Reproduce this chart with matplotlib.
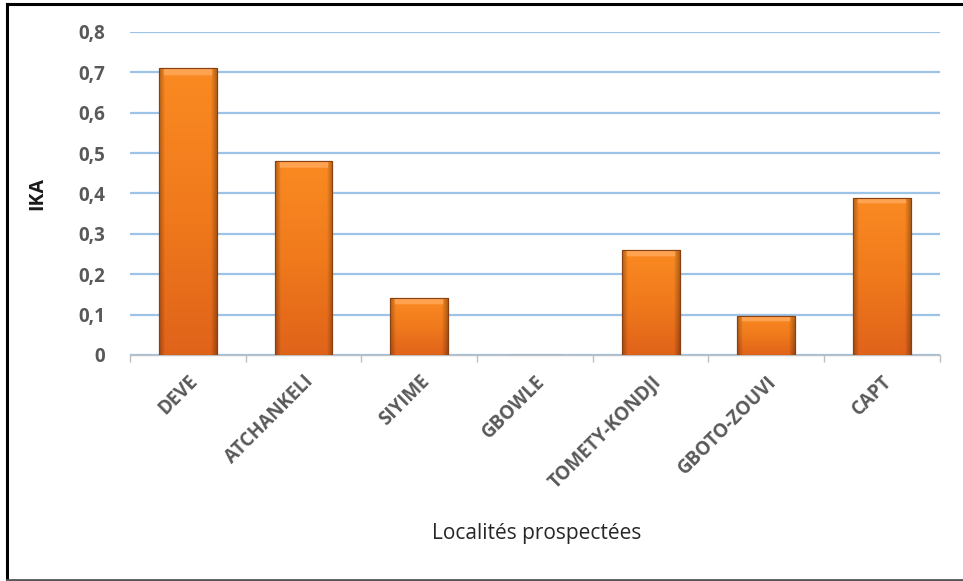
import matplotlib
matplotlib.use("Agg")
import matplotlib.pyplot as plt
import numpy as np
from matplotlib.patches import Rectangle
from matplotlib.lines import Line2D
from matplotlib.colors import LinearSegmentedColormap

categories = ["DEVE", "ATCHANKELI", "SIYIME", "GBOWLE", "TOMETY-KONDJI", "GBOTO-ZOUVI", "CAPT"]
values = [0.71, 0.48, 0.14, 0.0, 0.26, 0.097, 0.39]
yticks = [0, 0.1, 0.2, 0.3, 0.4, 0.5, 0.6, 0.7, 0.8]
ytick_labels = ["0", "0,1", "0,2", "0,3", "0,4", "0,5", "0,6", "0,7", "0,8"]

plt.rcParams['font.family'] = ['Open Sans', 'DejaVu Sans']

fig = plt.figure(figsize=(9.63, 5.81), dpi=100)
ax = fig.add_axes([0.135, 0.389, 0.841, 0.556])

x = np.arange(len(categories))
bars = ax.bar(x, values, width=0.5, color="#F5821F", edgecolor="#8A4010", linewidth=0.8, zorder=3)

# gradient fill inside each bar
cmap = LinearSegmentedColormap.from_list("og", ["#E0631A", "#F07A1C", "#FA8A22"])
nx = 60
hx = np.linspace(-1, 1, nx)
side = 1 - 0.28 * np.clip((np.abs(hx) - 0.8) / 0.2, 0, 1)
for b in bars:
    h = b.get_height()
    if h <= 0:
        continue
    x0 = b.get_x(); w = b.get_width()
    ny = 200
    vy = np.linspace(0, 1, ny)[:, None]
    img = np.tile(vy, (1, nx))
    rgba = cmap(img)
    rgba[..., :3] *= side[None, :, None]
    band_px = 6.0
    h_px = h / 0.8 * 323.0
    frac = max(0.0, 1 - band_px / h_px)
    top = (vy[:, 0] > frac)
    inner = (np.abs(hx) < 0.85)
    hl = np.outer(top, inner)
    rgba[hl, 0] = 1.0
    rgba[hl, 1] = 0.64
    rgba[hl, 2] = 0.32
    im = ax.imshow(rgba, extent=[x0, x0 + w, 0, h], origin="lower", aspect="auto", zorder=3.5,
                   interpolation="bilinear")
    im.set_clip_path(b)
    ax.add_patch(Rectangle((x0, 0), w, h, fill=False, edgecolor="#8A4010", linewidth=0.8, zorder=4))

ax.set_xlim(-0.5, len(categories) - 0.5)
ax.set_ylim(0, 0.8)
ax.set_yticks(yticks)
ax.set_yticklabels(ytick_labels, fontsize=13.5, fontweight="bold", color="#595959")
ax.yaxis.grid(True, color="#9DC3E6", linewidth=1.6, zorder=0)
ax.set_axisbelow(True)

ax.set_xticks(np.arange(-0.5, len(categories), 1.0))
ax.set_xticklabels([])
ax.tick_params(axis="x", which="major", length=5, color="#BFBFBF", width=1)
ax.set_xticks(x, minor=True)
ax.set_xticklabels(categories, minor=True, rotation=45, ha="right", rotation_mode="anchor",
                   fontsize=13.5, fontweight="bold", color="#595959")
ax.tick_params(axis="x", which="minor", length=0, pad=12)
ax.tick_params(axis="y", length=0, pad=18)

for s in ["top", "right", "left"]:
    ax.spines[s].set_visible(False)
ax.spines["bottom"].set_color("#BFBFBF")
ax.spines["bottom"].set_linewidth(1)

ax.set_ylabel("IKA", fontsize=14, fontweight="bold", color="#1A1A1A", labelpad=22)
fig.text(0.557, 0.081, "Localités prospectées", ha="center", va="center", fontsize=15, color="#262626")

# outer frame (right edge cut off in the reference)
W, H = 963.0, 581.0
fig.add_artist(Line2D([7 / W, 7 / W], [1 - 4 / H, 1 - 580 / H], color="black", linewidth=2.2))
fig.add_artist(Line2D([7 / W, 1.0], [1 - 4 / H, 1 - 4 / H], color="black", linewidth=2.2))
fig.add_artist(Line2D([7 / W, 1.0], [1 - 579.5 / H, 1 - 579.5 / H], color="#555555", linewidth=2.0))

fig.savefig("out.png", dpi=100)
